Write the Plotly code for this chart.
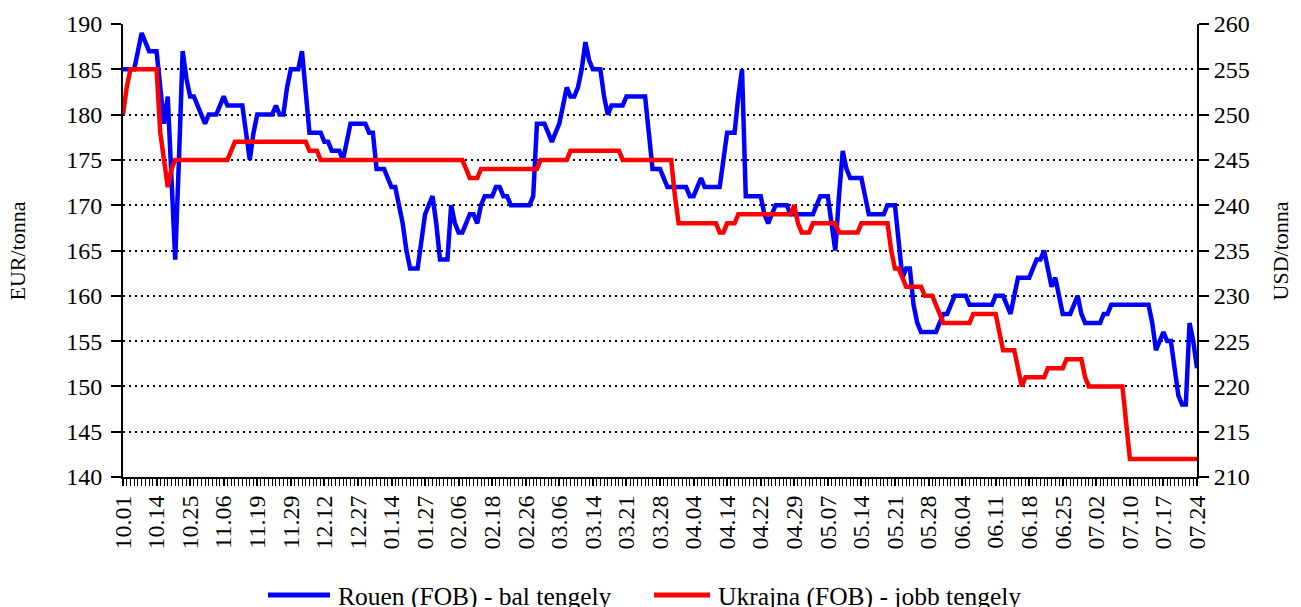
import plotly.graph_objects as go

tick_labels = ["10.01", "10.14", "10.25", "11.06", "11.19", "11.29", "12.12", "12.27",
               "01.14", "01.27", "02.06", "02.18", "02.26", "03.06", "03.14", "03.21",
               "03.28", "04.04", "04.14", "04.22", "04.29", "05.07", "05.14", "05.21",
               "05.28", "06.04", "06.11", "06.18", "06.25", "07.02", "07.10", "07.17",
               "07.24"]

series_names = ["Rouen (FOB) - bal tengely", "Ukrajna (FOB) - jobb tengely"]

rouen_eur = [
    185, 185, 185, 185, 187, 189, 188, 187, 187, 187,
    183, 179, 182, 173, 164, 175, 187, 184, 182, 182,
    181, 180, 179, 180, 180, 180, 181, 182, 181, 181,
    181, 181, 181, 178, 175, 178, 180, 180, 180, 180,
    180, 181, 180, 180, 183, 185, 185, 185, 187, 182,
    178, 178, 178, 178, 177, 177, 176, 176, 176, 175,
    177, 179, 179, 179, 179, 179, 178, 178, 174, 174,
    174, 173, 172, 172, 170, 168, 165, 163, 163, 163,
    166, 169, 170, 171, 168, 164, 164, 164, 170, 168,
    167, 167, 168, 169, 169, 168, 170, 171, 171, 171,
    172, 172, 171, 171, 170, 170, 170, 170, 170, 170,
    171, 179, 179, 179, 178, 177, 178, 179, 181, 183,
    182, 182, 183, 185, 188, 186, 185, 185, 185, 182,
    180, 181, 181, 181, 181, 182, 182, 182, 182, 182,
    182, 178, 174, 174, 174, 173, 172, 172, 172, 172,
    172, 172, 171, 171, 172, 173, 172, 172, 172, 172,
    172, 175, 178, 178, 178, 182, 185, 171, 171, 171,
    171, 171, 169, 168, 169, 170, 170, 170, 170, 169,
    169, 169, 169, 169, 169, 169, 170, 171, 171, 171,
    168, 165, 171, 176, 174, 173, 173, 173, 173, 171,
    169, 169, 169, 169, 169, 170, 170, 170, 166, 162,
    163, 163, 159, 157, 156, 156, 156, 156, 156, 157,
    158, 158, 159, 160, 160, 160, 160, 159, 159, 159,
    159, 159, 159, 159, 160, 160, 160, 159, 158, 160,
    162, 162, 162, 162, 163, 164, 164, 165, 163, 161,
    162, 160, 158, 158, 158, 159, 160, 158, 157, 157,
    157, 157, 157, 158, 158, 159, 159, 159, 159, 159,
    159, 159, 159, 159, 159, 159, 157, 154, 155, 156,
    155, 155, 152, 149, 148, 148, 157, 155, 152,
]

ukrajna_usd = [
    250, 253, 255, 255, 255, 255, 255, 255, 255, 255,
    248, 245, 242, 244, 245, 245, 245, 245, 245, 245,
    245, 245, 245, 245, 245, 245, 245, 245, 245, 246,
    247, 247, 247, 247, 247, 247, 247, 247, 247, 247,
    247, 247, 247, 247, 247, 247, 247, 247, 247, 247,
    246, 246, 246, 245, 245, 245, 245, 245, 245, 245,
    245, 245, 245, 245, 245, 245, 245, 245, 245, 245,
    245, 245, 245, 245, 245, 245, 245, 245, 245, 245,
    245, 245, 245, 245, 245, 245, 245, 245, 245, 245,
    245, 245, 244, 243, 243, 243, 244, 244, 244, 244,
    244, 244, 244, 244, 244, 244, 244, 244, 244, 244,
    244, 244, 245, 245, 245, 245, 245, 245, 245, 245,
    246, 246, 246, 246, 246, 246, 246, 246, 246, 246,
    246, 246, 246, 246, 245, 245, 245, 245, 245, 245,
    245, 245, 245, 245, 245, 245, 245, 245, 241, 238,
    238, 238, 238, 238, 238, 238, 238, 238, 238, 238,
    237, 237, 238, 238, 238, 239, 239, 239, 239, 239,
    239, 239, 239, 239, 239, 239, 239, 239, 239, 239,
    240, 238, 237, 237, 237, 238, 238, 238, 238, 238,
    238, 238, 237, 237, 237, 237, 237, 237, 238, 238,
    238, 238, 238, 238, 238, 238, 235, 233, 233, 232,
    231, 231, 231, 231, 231, 230, 230, 230, 229, 228,
    227, 227, 227, 227, 227, 227, 227, 227, 228, 228,
    228, 228, 228, 228, 228, 226, 224, 224, 224, 224,
    222, 220, 221, 221, 221, 221, 221, 221, 222, 222,
    222, 222, 222, 223, 223, 223, 223, 223, 221, 220,
    220, 220, 220, 220, 220, 220, 220, 220, 220, 216,
    212, 212, 212, 212, 212, 212, 212, 212, 212, 212,
    212, 212, 212, 212, 212, 212, 212, 212, 212,
]

label_step = 9
x_idx = list(range(len(rouen_eur)))
FONT = "Liberation Serif"
BLUE = "#0000FF"
RED = "#FF0000"

fig = go.Figure()
fig.add_trace(go.Scatter(x=x_idx, y=rouen_eur, mode="lines", name=series_names[0],
                         line=dict(color=BLUE, width=4.5), yaxis="y"))
fig.add_trace(go.Scatter(x=x_idx, y=ukrajna_usd, mode="lines", name=series_names[1],
                         line=dict(color=RED, width=4.5), yaxis="y2"))

axis_common = dict(showline=True, linecolor="black", linewidth=2, ticks="outside",
                   ticklen=10, tickwidth=2, tickcolor="black", zeroline=False,
                   automargin=False,
                   tickfont=dict(family=FONT, size=24, color="black"))

# manual legend (paper coordinates)
leg_y = -0.2605
legend_shapes = [
    dict(type="line", xref="paper", yref="paper", x0=0.1350, x1=0.1927, y0=leg_y, y1=leg_y,
         line=dict(color=BLUE, width=5)),
    dict(type="line", xref="paper", yref="paper", x0=0.4944, x1=0.5466, y0=leg_y, y1=leg_y,
         line=dict(color=RED, width=5)),
]
legend_texts = [
    dict(text=series_names[0], xref="paper", yref="paper", x=0.1983, y=leg_y - 0.004,
         xanchor="left", yanchor="middle", showarrow=False,
         font=dict(family=FONT, size=25.5, color="black")),
    dict(text=series_names[1], xref="paper", yref="paper", x=0.5521, y=leg_y - 0.004,
         xanchor="left", yanchor="middle", showarrow=False,
         font=dict(family=FONT, size=25.5, color="black")),
]

fig.update_layout(
    width=1301, height=607,
    margin=dict(l=123, r=104, t=24, b=130, autoexpand=False),
    paper_bgcolor="white", plot_bgcolor="white",
    font=dict(family=FONT, color="black"),
    showlegend=False,
    xaxis=dict(range=[0, len(rouen_eur) - 1],
               tickvals=x_idx[::label_step], ticktext=tick_labels, tickangle=-90,
               showline=True, linecolor="black", linewidth=2, ticks="outside",
               ticklen=7, tickwidth=1.5, tickcolor="black", showgrid=False, zeroline=False,
               automargin=False,
               tickfont=dict(family=FONT, size=24, color="black"),
               minor=dict(dtick=1, tick0=0, ticks="outside", ticklen=7, tickwidth=1,
                          tickcolor="black", showgrid=False)),
    yaxis=dict(range=[140, 190], dtick=5, showgrid=True, gridcolor="black", gridwidth=2,
               griddash="2px,4px", ticklabelstandoff=4, **axis_common),
    yaxis2=dict(range=[210, 260], dtick=5, overlaying="y", side="right", showgrid=False,
                **axis_common),
    shapes=legend_shapes,
    annotations=[
        dict(text="EUR/tonna", xref="paper", yref="paper", x=-0.0978, y=0.5,
             xanchor="center", yanchor="middle",
             textangle=-90, showarrow=False, font=dict(family=FONT, size=22, color="black")),
        dict(text="USD/tonna", xref="paper", yref="paper", x=1.0782, y=0.5,
             xanchor="center", yanchor="middle",
             textangle=-90, showarrow=False, font=dict(family=FONT, size=22, color="black")),
    ] + legend_texts,
)

fig.write_html("out.html", config={"displayModeBar": False},
               post_script="document.body.style.margin='0';document.body.style.overflow='hidden';")
